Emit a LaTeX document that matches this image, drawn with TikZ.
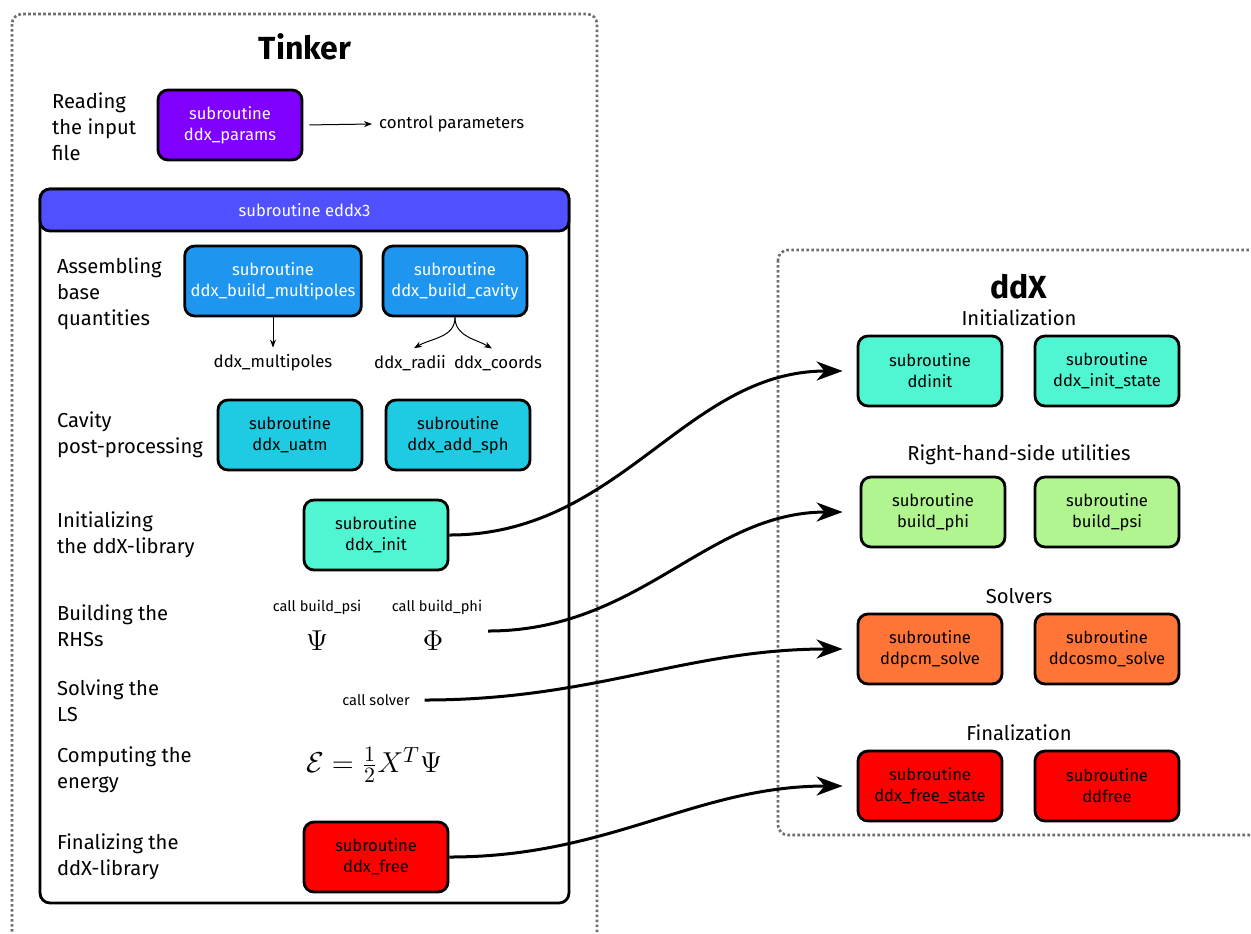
\documentclass[tikz,border=0pt]{standalone}
\usepackage[no-math]{fontspec}
\setmainfont{Fira Sans}
\usetikzlibrary{
    arrows.meta,
    positioning,
    calc
}
\definecolor{ddxpurple}{HTML}{7F00FF}
\definecolor{ddxindigo}{HTML}{5050FF}
\definecolor{ddxblue}{HTML}{1E96F0}
\definecolor{ddxcyan}{HTML}{1ECBE3}
\definecolor{ddxaqua}{HTML}{50F5D2}
\definecolor{ddxgreen}{HTML}{B0F590}
\definecolor{ddxorange}{HTML}{FF7538}
\definecolor{ddxred}{HTML}{FF0000}
\definecolor{ddxgray}{HTML}{6E6E6E}
\tikzset{
    % Subroutine box
    subbox/.style={
        rectangle,
        rounded corners=5pt,
        draw=black,
        line width=1.4pt,
        fill=#1,
        text=black,
        font=\fontsize{8.3}{10.5}\selectfont,
        minimum width=72pt,
        minimum height=35pt,
        align=center,
        inner sep=3pt
    },
    subbox/.default=ddxaqua,
    % Subroutine box with white text
    subboxw/.style={
        subbox=#1,
        text=white
    },
    % Step description on the left
    steplabel/.style={
        anchor=west,
        align=left,
        font=\fontsize{10.1}{13}\selectfont
    },
    % Frame titles
    frametitle/.style={
        font=\fontsize{16}{18}\selectfont\bfseries
    },
    % Group headings
    grouphead/.style={
        font=\fontsize{10.1}{12}\selectfont
    },
    % Output names
    outtext/.style={
        font=\fontsize{8.4}{10}\selectfont
    },
    % Call names
    calltext/.style={
        font=\fontsize{7.3}{9}\selectfont
    },
    % Math
    mathtext/.style={
        font=\fontsize{15.8}{18}\selectfont
    },
    % Dotted frame
    dottedframe/.style={
        draw=ddxgray,
        line width=1.3pt,
        dash pattern=on 1.3pt off 1.2pt,
        rounded corners=5pt
    },
    % Thin arrow
    thinarrow/.style={
        -{Stealth[length=4pt,width=3pt]},
        line width=0.5pt
    },
    % Call arrow
    callarrow/.style={
        -{Stealth[length=13pt,width=9.5pt,inset=4pt]},
        line width=1.5pt,
        shorten >=7pt
    }
}
\begin{document}
\begin{tikzpicture}[x=0.5pt,y=-0.5pt]
    \useasboundingbox (0,0) rectangle (1251,933);
    \clip (0,0) rectangle (1251,933);

    % Frames
    \draw[dottedframe] (12,14) rectangle (597,990);
    \draw[dottedframe] (778,250) rectangle (1290,835);
    \node[frametitle] (tinker) at (305,47) {Tinker};
    \node[frametitle] (ddx) at (1019,287) {ddX};

    % Reading the input
    \node[steplabel] (lread) at (45,127) {Reading\\the input\\file};
    \node[subboxw=ddxpurple] (params) at (230,125) {subroutine\\ddx\_params};
    \node[outtext, anchor=west] (ctrl) at (372,124) {control parameters};
    \draw[thinarrow, shorten <=3pt] (params.east) -- (ctrl.west);

    % subroutine eddx3
    \draw[line width=1.4pt, rounded corners=5pt] (40,189) rectangle (569,903);
    \node[subboxw=ddxindigo, minimum width=264.5pt, minimum height=21pt] (eddx) at (304.5,210) {subroutine eddx3};

    % Assembling base quantities
    \node[steplabel] (lassemble) at (50,294) {Assembling\\base\\quantities};
    \node[subboxw=ddxblue] (multipoles) at (273,281) {subroutine\\ddx\_build\_multipoles};
    \node[subboxw=ddxblue] (cavity) at (455,281) {subroutine\\ddx\_build\_cavity};
    \node[outtext] (mpoles) at (273,363) {ddx\_multipoles};
    \node[outtext] (radii) at (410,363) {ddx\_radii};
    \node[outtext] (coords) at (498,363) {ddx\_coords};
    \draw[thinarrow] (multipoles.south) -- (mpoles.north);
    \draw[thinarrow] (cavity.south) to[out=-90,in=30] ([xshift=2pt]radii.north);
    \draw[thinarrow] (cavity.south) to[out=-90,in=150] ([xshift=-3pt]coords.north);

    % Cavity post-processing
    \node[steplabel] (lcavity) at (50,435) {Cavity\\post-processing};
    \node[subbox=ddxcyan] (uatm) at (290,435) {subroutine\\ddx\_uatm};
    \node[subbox=ddxcyan] (addsph) at (458,435) {subroutine\\ddx\_add\_sph};

    % Initializing
    \node[steplabel] (linit) at (50,535) {Initializing\\the ddX-library};
    \node[subbox=ddxaqua] (init) at (376,535) {subroutine\\ddx\_init};

    % Building the RHSs
    \node[steplabel] (lrhs) at (50,626) {Building the\\RHSs};
    \node[calltext] (callpsi) at (317,607) {call build\_psi};
    \node[calltext] (callphi) at (437,607) {call build\_phi};
    \node[mathtext] (psi) at (317,641) {$\Psi$};
    \node[mathtext] (phi) at (433,641) {$\Phi$};
    \coordinate (rhsout) at (488,631);

    % Solving the LS
    \node[steplabel] (lsolve) at (50,701) {Solving the\\LS};
    \node[calltext] (solver) at (376,700) {call solver};

    % Computing the energy
    \node[steplabel] (lenergy) at (50,770) {Computing the\\energy};
    \node[mathtext] (energy) at (374,765) {$\mathcal{E}=\frac{1}{2}X^T\Psi$};

    % Finalizing
    \node[steplabel] (lfree) at (50,857) {Finalizing the\\ddX-library};
    \node[subbox=ddxred] (free) at (376,857) {subroutine\\ddx\_free};

    % ddX groups
    \node[grouphead] (hinit) at (1019,318) {Initialization};
    \node[subbox=ddxaqua] (ddinit) at (930,371) {subroutine\\ddinit};
    \node[subbox=ddxaqua] (initstate) at (1107,371) {subroutine\\ddx\_init\_state};

    \node[grouphead] (hrhs) at (1019,455) {Right-hand-side utilities};
    \node[subbox=ddxgreen] (buildphi) at (933,512) {subroutine\\build\_phi};
    \node[subbox=ddxgreen] (buildpsi) at (1107,512) {subroutine\\build\_psi};

    \node[grouphead] (hsolve) at (1019,596) {Solvers};
    \node[subbox=ddxorange] (ddpcm) at (930,649) {subroutine\\ddpcm\_solve};
    \node[subbox=ddxorange] (ddcosmo) at (1107,649) {subroutine\\ddcosmo\_solve};

    \node[grouphead] (hfree) at (1019,733) {Finalization};
    \node[subbox=ddxred] (freestate) at (930,786) {subroutine\\ddx\_free\_state};
    \node[subbox=ddxred] (ddfree) at (1107,786) {subroutine\\ddfree};

    % Calls into ddX
    \draw[callarrow] (init.east) to[out=0,in=180] (ddinit.west);
    \draw[callarrow, shorten >=8.5pt] (rhsout) to[out=0,in=180] (buildphi.west);
    \draw[callarrow] ([xshift=4pt]solver.east) to[out=0,in=180] (ddpcm.west);
    \draw[callarrow] (free.east) to[out=0,in=180] (freestate.west);

\end{tikzpicture}
\end{document}
